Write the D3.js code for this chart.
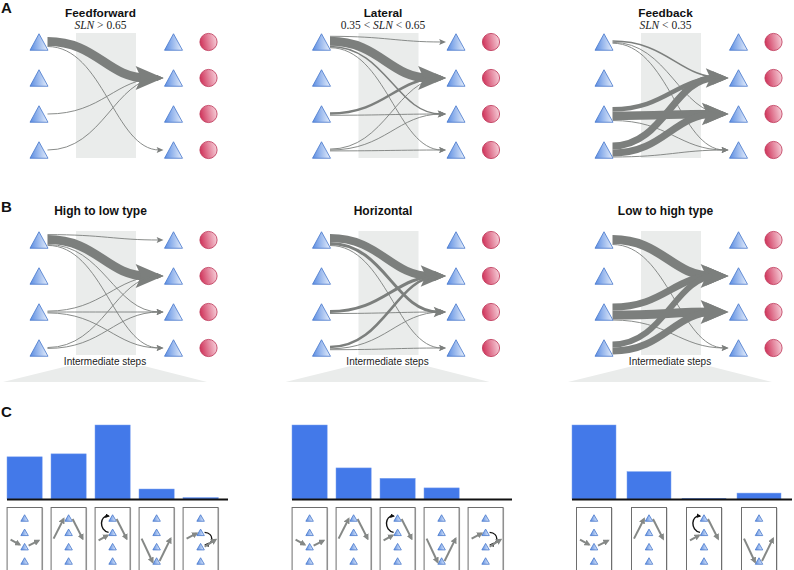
<!DOCTYPE html>
<html><head><meta charset="utf-8">
<script src="https://cdn.jsdelivr.net/npm/d3@7"></script>
<style>body{margin:0;background:#fff} svg{display:block}</style>
</head><body>
<svg id="fig" width="794" height="570"></svg>
<script>
// ---------------- data ----------------
const rowIds = [0, 1, 2, 3];
const panelTitlesA = ["Feedforward", "Lateral", "Feedback"];
const panelMathA = [
  [["SLN", "i"], [" > 0.65", "n"]],
  [["0.35 < ", "n"], ["SLN", "i"], [" < 0.65", "n"]],
  [["SLN", "i"], [" < 0.35", "n"]]
];
const panelTitlesB = ["High to low type", "Horizontal", "Low to high type"];
const stepsLabel = "Intermediate steps";
// flows: [source row, target row, relative strength]
const flowsFeedforward = [[0,1,0.9],[0,3,0.08],[2,1,0.08],[3,1,0.08]];
const flowsLateral = [[0,0,0.08],[0,1,0.9],[0,2,0.15],[0,3,0.08],[2,1,0.25],[2,2,0.08],[3,1,0.08],[3,2,0.08],[3,3,0.08]];
const flowsFeedback = [[0,1,0.15],[0,2,0.08],[0,3,0.08],[2,1,0.45],[2,2,0.85],[2,3,0.08],[3,1,0.7],[3,2,0.7],[3,3,0.08]];
const flowsHighLow = [[0,0,0.08],[0,1,0.9],[0,2,0.08],[0,3,0.08],[2,1,0.08],[2,2,0.08],[2,3,0.08],[3,1,0.08],[3,2,0.08]];
const flowsHorizontal = [[0,1,0.8],[0,2,0.3],[0,3,0.08],[2,1,0.3],[2,2,0.08],[3,1,0.25],[3,2,0.08],[3,3,0.08]];
const flowsLowHigh = [[0,1,0.9],[0,3,0.08],[2,1,0.7],[2,2,0.9],[2,3,0.08],[3,1,0.6],[3,2,0.7]];
const flowsA = [flowsFeedforward, flowsLateral, flowsFeedback];
const flowsB = [flowsHighLow, flowsHorizontal, flowsLowHigh];
// motif bar charts (C)
const motifsLeft = [0, 1, 2, 3, 4];
const valuesLeft = [0.57, 0.61, 1.0, 0.135, 0.02];
const motifsMid = [0, 1, 2, 3, 4];
const valuesMid = [1.0, 0.42, 0.28, 0.15, 0];
const motifsRight = [0, 1, 2, 3];
const valuesRight = [1.0, 0.37, 0.01, 0.08];
const panelLabels = ["A", "B", "C"];

// ---------------- drawing ----------------
const svg = d3.select("#fig");
const defs = svg.append("defs");
const tg = defs.append("linearGradient").attr("id", "triGrad").attr("x1", 0).attr("y1", 0).attr("x2", 1).attr("y2", 0);
tg.append("stop").attr("offset", 0).attr("stop-color", "#5b8de2");
tg.append("stop").attr("offset", 1).attr("stop-color", "#e6eefb");
const cg = defs.append("linearGradient").attr("id", "circGrad").attr("x1", 0).attr("y1", 0.2).attr("x2", 1).attr("y2", 0);
cg.append("stop").attr("offset", 0).attr("stop-color", "#d23d62");
cg.append("stop").attr("offset", 1).attr("stop-color", "#f9dbe3");
function marker(id, color) {
  defs.append("marker").attr("id", id).attr("viewBox", "0 0 10 10").attr("refX", 7).attr("refY", 5)
    .attr("markerWidth", 3.2).attr("markerHeight", 3.2).attr("orient", "auto")
    .append("path").attr("d", "M0,0 L10,5 L0,10 z").attr("fill", color);
}
marker("ahGray", "#858886");
marker("ahBlack", "#111");

const flowColor = "#7c7f7d";
const panelX = d3.scaleLinear().domain([0, 2]).range([0, 565]);
const colX = d3.scaleOrdinal().domain(["src", "tgt", "out"]).range([39, 173.5, 208.5]);
const rowYA = d3.scalePoint().domain(rowIds).range([42, 150]);
const rowYB = d3.scalePoint().domain(rowIds).range([240, 348]);
const wScale = d3.scaleLinear().domain([0, 1]).range([0, 10]);

function triangle(g, cx, cy, w, h) {
  g.append("path")
    .attr("d", `M${cx},${cy - h / 2} L${cx + w / 2},${cy + h / 2} L${cx - w / 2},${cy + h / 2} Z`)
    .attr("fill", "url(#triGrad)").attr("stroke", "#4677cc").attr("stroke-width", 0.8);
}

function drawFlows(g, flows, rowY, ox) {
  const xs = ox + colX("src") + 8.5;
  const tip = ox + colX("tgt") - 10;
  const items = [];
  d3.group(flows, d => d[0]).forEach((arr, s) => {
    arr = arr.slice().sort((a, b) => a[1] - b[1]);
    const ws = arr.map(d => Math.max(0.9, wScale(d[2])));
    const total = d3.sum(ws);
    let y = rowY(s) - total / 2;
    arr.forEach((d, i) => { items.push({ s, t: d[1], w: ws[i], y0: y + ws[i] / 2 }); y += ws[i]; });
  });
  items.sort((a, b) => b.w - a.w);
  items.forEach(it => {
    const y1 = rowY(it.t);
    const L = 4.5 + 2.6 * it.w, H = 2 + 1.1 * it.w;
    const xe = tip - L * 0.6;
    const d = xe - xs;
    g.append("path")
      .attr("d", `M${xs},${it.y0} C${xs + 0.5 * d},${it.y0} ${xe - 0.4 * d},${y1} ${xe},${y1}`)
      .attr("fill", "none").attr("stroke", flowColor).attr("stroke-width", it.w);
    g.append("path")
      .attr("d", `M${tip},${y1} L${tip - L},${y1 - H} L${tip - L * 0.8},${y1} L${tip - L},${y1 + H} Z`)
      .attr("fill", flowColor);
  });
}

function drawNodes(g, rowY, ox) {
  rowIds.forEach(r => {
    triangle(g, ox + colX("src"), rowY(r), 18, 16.5);
    triangle(g, ox + colX("tgt"), rowY(r), 18, 16.5);
    g.append("circle").attr("cx", ox + colX("out")).attr("cy", rowY(r)).attr("r", 8.6)
      .attr("fill", "url(#circGrad)").attr("stroke", "#bd3355").attr("stroke-width", 0.8);
  });
}

// Panel A
[0, 1, 2].forEach(i => {
  const ox = panelX(i);
  const g = svg.append("g");
  g.append("rect").attr("x", ox + 76).attr("y", 33).attr("width", 60).attr("height", 125).attr("fill", "#eaeceb");
  drawFlows(g, flowsA[i], rowYA, ox);
  drawNodes(g, rowYA, ox);
  g.append("text").attr("x", ox + 100.5).attr("y", 16.5).attr("text-anchor", "middle")
    .attr("font-family", "Liberation Sans, Arial, sans-serif").attr("font-weight", "bold").attr("font-size", 11.8)
    .attr("fill", "#111").text(panelTitlesA[i]);
  const m = g.append("text").attr("x", ox + 100.5).attr("y", 29).attr("text-anchor", "middle")
    .attr("font-family", "Liberation Serif, Times New Roman, serif").attr("font-size", 11.5).attr("fill", "#222");
  panelMathA[i].forEach(p => m.append("tspan").attr("font-style", p[1] === "i" ? "italic" : "normal").text(p[0]));
});

// Panel B
[0, 1, 2].forEach(i => {
  const ox = panelX(i);
  const g = svg.append("g");
  g.append("path").attr("d", `M${ox + 68},366 L${ox + 144},366 L${ox + 207},382 L${ox + 3},382 Z`).attr("fill", "#eaeceb");
  g.append("rect").attr("x", ox + 76).attr("y", 231).attr("width", 60).attr("height", 124).attr("fill", "#eaeceb");
  drawFlows(g, flowsB[i], rowYB, ox);
  drawNodes(g, rowYB, ox);
  g.append("text").attr("x", ox + 100.5).attr("y", 214.5).attr("text-anchor", "middle")
    .attr("font-family", "Liberation Sans, Arial, sans-serif").attr("font-weight", "bold").attr("font-size", 12)
    .attr("fill", "#111").text(panelTitlesB[i]);
  g.append("text").attr("x", ox + 105).attr("y", 365).attr("text-anchor", "middle")
    .attr("font-family", "Liberation Sans, Arial, sans-serif").attr("font-size", 10)
    .attr("fill", "#222").text(stepsLabel);
});

// Panel C
const yBar = d3.scaleLinear().domain([0, 1]).range([499, 425]);
const iconRow = d3.scalePoint().domain(rowIds).range([518, 561]);
const cPanels = [
  { motifs: motifsLeft, values: valuesLeft, x0: 7, step: 44, axisEnd: 228 },
  { motifs: motifsMid, values: valuesMid, x0: 292, step: 44, axisEnd: 512 },
  { motifs: motifsRight, values: valuesRight, x0: 572, step: 55, axisEnd: 792 }
];

function garrow(g, x1, y1, x2, y2) {
  g.append("line").attr("x1", x1).attr("y1", y1).attr("x2", x2).attr("y2", y2)
    .attr("stroke", "#858886").attr("stroke-width", 2).attr("marker-end", "url(#ahGray)");
}
function barrow(g, d) {
  g.append("path").attr("d", d).attr("fill", "none").attr("stroke", "#111").attr("stroke-width", 1.4)
    .attr("marker-end", "url(#ahBlack)");
}
function drawMotif(g, m, cx) {
  const r = iconRow;
  if (m === 0) {
    garrow(g, cx - 14, r(2) - 7, cx - 5, r(2) - 2);
    garrow(g, cx + 4, r(2) - 1, cx + 14, r(2) - 6);
  } else if (m === 1) {
    garrow(g, cx - 15, r(2) - 8, cx - 5, r(0) + 1);
    garrow(g, cx + 4, r(0) + 1, cx + 14, r(2) - 8);
  } else if (m === 2) {
    garrow(g, cx - 14, r(1) + 8, cx - 5, r(1) + 3);
    garrow(g, cx + 4, r(0) + 1, cx + 14, r(2) - 8);
    barrow(g, `M${cx - 4},${r(1)} C${cx - 14},${r(1) - 2} ${cx - 13},${r(0) - 3} ${cx - 4},${r(0) - 2}`);
  } else if (m === 3) {
    garrow(g, cx - 15, r(2) - 8, cx - 4, r(3) + 1);
    garrow(g, cx + 3, r(3), cx + 14, r(2) - 8);
  } else if (m === 4) {
    garrow(g, cx - 14, r(2) - 8, cx - 4, r(1) + 1);
    barrow(g, `M${cx + 4},${r(1)} C${cx + 14},${r(1) + 1} ${cx + 13},${r(2) - 2} ${cx + 5},${r(2) - 2}`);
    garrow(g, cx + 4, r(2), cx + 15, r(2) - 7);
  }
}

cPanels.forEach(p => {
  const n = p.motifs.length;
  const bw = p.step * 0.8;
  const x = d3.scaleBand().domain(p.motifs.map((m, i) => i)).range([p.x0, p.x0 + n * p.step - (p.step - bw)])
    .paddingInner((p.step - bw) / p.step).paddingOuter(0);
  const g = svg.append("g");
  g.selectAll(".bar").data(p.values).enter().append("rect")
    .attr("x", (d, i) => x(i)).attr("width", x.bandwidth())
    .attr("y", d => yBar(d)).attr("height", d => yBar(0) - yBar(d))
    .attr("fill", "#4379e9").attr("stroke", "#7ea3f0").attr("stroke-width", 0.5);
  g.append("line").attr("x1", p.x0).attr("x2", p.axisEnd).attr("y1", yBar(0) + 0.5).attr("y2", yBar(0) + 0.5)
    .attr("stroke", "#111").attr("stroke-width", 2);
  p.motifs.forEach((m, i) => {
    const cx = x(i) + x.bandwidth() / 2;
    g.append("rect").attr("x", cx - 16.5).attr("y", 508).attr("width", 35).attr("height", 80).attr("fill", "#bbb");
    g.append("rect").attr("x", cx - 17.5).attr("y", 507.5).attr("width", 35).attr("height", 80)
      .attr("fill", "#fff").attr("stroke", "#6e6e6e").attr("stroke-width", 1);
    rowIds.forEach(rr => triangle(g, cx, iconRow(rr), 7.5, 6.5));
    drawMotif(g, m, cx);
  });
});

// Panel labels
const labelY = d3.scaleOrdinal().domain(panelLabels).range([13, 212, 417]);
svg.selectAll(".plabel").data(panelLabels).enter().append("text")
  .attr("x", 1).attr("y", d => labelY(d))
  .attr("font-family", "Liberation Sans, Arial, sans-serif").attr("font-weight", "bold").attr("font-size", 15)
  .attr("fill", "#111").text(d => d);
</script>
</body></html>
